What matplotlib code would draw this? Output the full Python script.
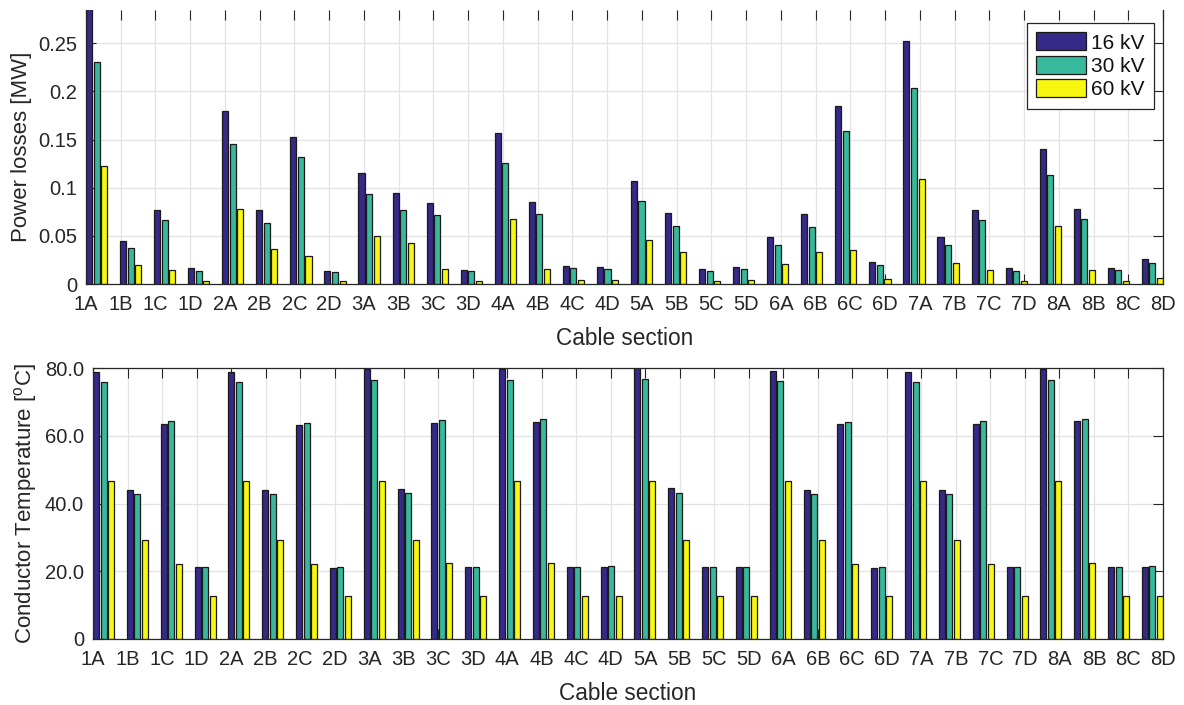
import numpy as np
import matplotlib
matplotlib.use("Agg")
import matplotlib.pyplot as plt

plt.rcParams['font.family'] = ['Liberation Sans', 'DejaVu Sans']
plt.rcParams['mathtext.default'] = 'regular'

sections = ['1A', '1B', '1C', '1D', '2A', '2B', '2C', '2D',
            '3A', '3B', '3C', '3D', '4A', '4B', '4C', '4D',
            '5A', '5B', '5C', '5D', '6A', '6B', '6C', '6D',
            '7A', '7B', '7C', '7D', '8A', '8B', '8C', '8D']
series_names = ['16 kV', '30 kV', '60 kV']

loss_16kV = [0.290, 0.045, 0.077, 0.017, 0.180, 0.077, 0.153, 0.014,
             0.115, 0.094, 0.084, 0.015, 0.157, 0.085, 0.019, 0.018,
             0.107, 0.074, 0.016, 0.018, 0.049, 0.073, 0.185, 0.023,
             0.252, 0.049, 0.077, 0.017, 0.140, 0.078, 0.017, 0.026]
loss_30kV = [0.231, 0.037, 0.066, 0.014, 0.145, 0.063, 0.132, 0.012,
             0.093, 0.077, 0.072, 0.013, 0.126, 0.073, 0.017, 0.016,
             0.086, 0.060, 0.013, 0.016, 0.040, 0.059, 0.159, 0.020,
             0.204, 0.040, 0.066, 0.014, 0.113, 0.067, 0.015, 0.022]
loss_60kV = [0.123, 0.020, 0.015, 0.0035, 0.078, 0.036, 0.029, 0.003,
             0.050, 0.043, 0.016, 0.0035, 0.067, 0.016, 0.004, 0.004,
             0.046, 0.033, 0.0035, 0.004, 0.021, 0.033, 0.035, 0.005,
             0.109, 0.022, 0.015, 0.0035, 0.060, 0.015, 0.0035, 0.006]

temp_16kV = [78.7, 44.0, 63.5, 21.3, 78.7, 44.0, 63.1, 21.1,
             79.8, 44.3, 63.8, 21.3, 79.8, 64.2, 21.3, 21.4,
             80.5, 44.5, 21.3, 21.3, 79.2, 44.1, 63.4, 21.1,
             78.9, 44.0, 63.6, 21.2, 79.8, 64.3, 21.3, 21.4]
temp_30kV = [76.0, 42.9, 64.3, 21.3, 76.0, 42.8, 63.9, 21.3,
             76.4, 43.1, 64.6, 21.4, 76.5, 64.8, 21.4, 21.5,
             76.8, 43.2, 21.4, 21.4, 76.3, 42.9, 64.0, 21.2,
             76.0, 42.9, 64.3, 21.3, 76.6, 64.9, 21.4, 21.5]
temp_60kV = [46.5, 29.1, 22.2, 12.7, 46.5, 29.1, 22.2, 12.7,
             46.7, 29.1, 22.3, 12.7, 46.7, 22.3, 12.7, 12.7,
             46.6, 29.1, 12.7, 12.7, 46.6, 29.1, 22.2, 12.7,
             46.5, 29.1, 22.2, 12.7, 46.7, 22.3, 12.7, 12.7]

loss_ticks = [0, 0.05, 0.1, 0.15, 0.2, 0.25]
loss_ticklabels = ['0', '0.05', '0.1', '0.15', '0.2', '0.25']
temp_ticks = [0, 20, 40, 60, 80]
temp_ticklabels = ['0', '20.0', '40.0', '60.0', '80.0']

colors = ['#352a87', '#38b89c', '#f7f70f']
text_color = '#262626'

fig = plt.figure(figsize=(11.84, 7.05), dpi=100)
W, H = 1184, 705
ax1 = fig.add_axes([86 / W, 1 - 284 / H, (1163 - 86) / W, (284 - 10) / H])
ax2 = fig.add_axes([93 / W, 1 - 639 / H, (1163 - 93) / W, (639 - 368) / H])

x = np.arange(1, len(sections) + 1)
bw = 0.178
offs = [-0.222, 0.0, 0.222]
xlim = (1 - 0.311, len(sections) + 0.311)
xt = np.linspace(xlim[0], xlim[1], len(sections))


def style(ax, data, yt, ytl, ylim, ylabel, top_spine):
    for k, (vals, c, name) in enumerate(zip(data, colors, series_names)):
        ax.bar(x + offs[k], vals, width=bw, color=c, edgecolor='#1a1a1a',
               linewidth=0.9, label=name)
    ax.set_xlim(*xlim)
    ax.set_ylim(*ylim)
    ax.set_axisbelow(True)
    ax.set_xticks(xt)
    ax.set_xticklabels(sections)
    ax.set_yticks(yt)
    ax.set_yticklabels(ytl)
    ax.grid(True, color='#e3e3e3', linewidth=0.9)
    ax.tick_params(direction='in', length=7, width=0.8, colors='#262626',
                   labelsize=14.5, top=True, right=True)
    ax.tick_params(axis='x', pad=8)
    ax.tick_params(axis='y', pad=6.5)
    for lbl in ax.get_xticklabels() + ax.get_yticklabels():
        lbl.set_color(text_color)
    for s in ax.spines.values():
        s.set_color('#262626')
        s.set_linewidth(0.9)
    ax.spines['top'].set_visible(top_spine)
    ax.set_xlabel('Cable section', fontsize=16.3, color=text_color, labelpad=9)
    ax.set_ylabel(ylabel, fontsize=16, color=text_color, labelpad=4)


style(ax1, [loss_16kV, loss_30kV, loss_60kV], loss_ticks, loss_ticklabels,
      (0, 0.2845), 'Power losses [MW]', False)
style(ax2, [temp_16kV, temp_30kV, temp_60kV], temp_ticks, temp_ticklabels,
      (0, 80), r'Conductor Temperature [$^{o}$C]', True)

leg = ax1.legend(loc='upper right', bbox_to_anchor=(1154 / W, 1 - 23 / H),
                 bbox_transform=fig.transFigure, borderaxespad=0,
                 fontsize=15, fancybox=False, framealpha=1,
                 edgecolor='#262626', handlelength=2.4, handleheight=0.96,
                 handletextpad=0.25, labelspacing=0.15, borderpad=0.45)
leg.get_frame().set_linewidth(0.9)
for t in leg.get_texts():
    t.set_color('#111111')

fig.savefig('out.png', dpi=100)
